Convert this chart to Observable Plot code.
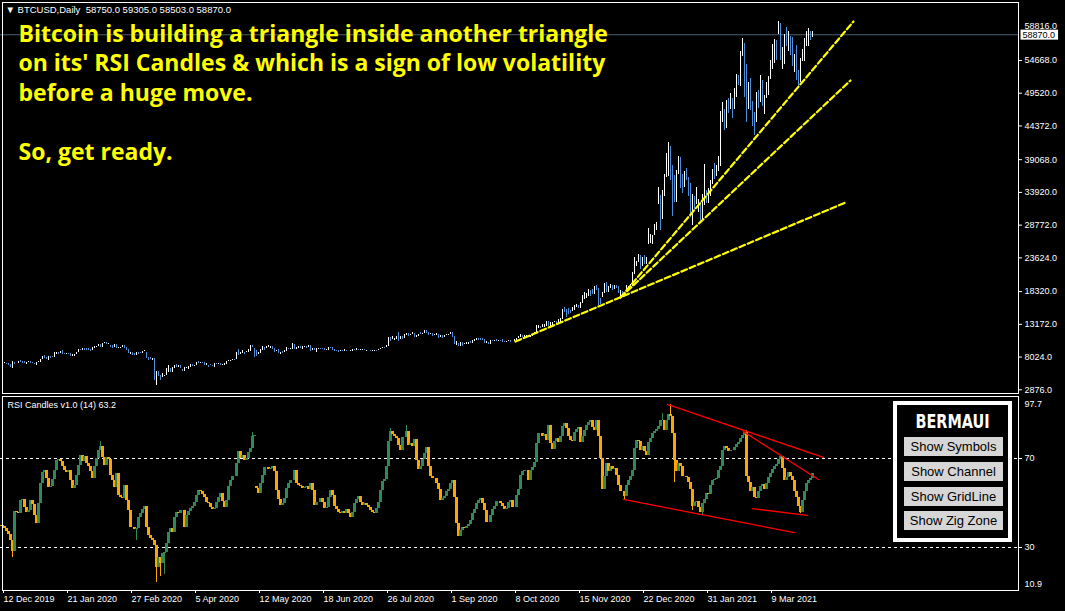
<!DOCTYPE html>
<html><head><meta charset="utf-8">
<script src="https://cdn.jsdelivr.net/npm/d3@7"></script>
<script src="https://cdn.jsdelivr.net/npm/@observablehq/plot@0.6"></script>
<style>
html,body{margin:0;padding:0;background:#000;}
#wrap{position:relative;width:1065px;height:611px;background:#000;overflow:hidden;font-family:"Liberation Sans",Arial,sans-serif;}
#wrap > svg{position:absolute;left:0;}
#bermaui{position:absolute;left:893px;top:401px;width:119px;height:141px;box-sizing:border-box;border:4px solid #fff;background:#000;}
#bermaui .btn{position:absolute;left:7px;width:99px;height:19px;background:#d6d6d6;color:#000;font:13px "Liberation Sans",Arial,sans-serif;text-align:center;line-height:19px;white-space:nowrap;}
#bermaui svg{position:absolute;left:0;top:0;}
</style></head>
<body><div id="wrap"></div>
<script>
// ---------------- DATA ----------------
const symbolName = "BTCUSD";
const timeframe = "Daily";
const lastOHLC = [58750.0, 59305.0, 58503.0, 58870.0];

const firstBar = 1; // bar index of first value (x = 2px per bar)

// price (thousands USD) – daily bars
const priceHigh = [
7.29,7.31,7.20,7.15,6.94,7.42,7.37,7.22,7.52,7.69,
7.42,7.43,7.27,7.52,7.42,7.33,7.21,7.40,7.50,7.78,
8.21,8.40,8.05,8.20,8.20,8.20,8.88,8.90,8.85,9.00,
9.16,8.72,8.76,8.80,8.69,8.51,8.60,8.97,9.37,9.43,
9.55,9.52,9.47,9.57,9.34,9.70,9.83,9.86,10.13,10.14,
10.29,10.43,10.47,10.38,10.05,9.96,10.18,10.20,9.65,9.71,
9.98,9.98,9.66,9.35,8.95,8.85,8.75,8.94,8.92,8.84,
9.10,9.17,8.90,8.18,8.15,7.97,7.97,5.92,5.90,5.36,
5.55,5.35,6.33,6.87,6.40,6.56,6.84,6.95,6.79,6.86,
6.25,6.60,6.52,6.74,7.09,7.00,6.88,7.35,7.46,7.40,
7.37,7.30,7.18,6.91,6.94,6.93,7.16,7.15,7.24,7.22,
6.94,7.14,7.50,7.57,7.70,7.80,7.78,8.89,9.44,8.96,
9.16,8.96,9.08,9.35,9.99,10.02,9.54,9.17,8.95,9.32,
9.79,9.75,9.88,9.93,9.90,9.81,9.56,9.26,9.31,8.97,
9.01,9.20,9.62,9.60,9.58,10.38,10.23,9.69,9.86,9.85,
9.80,9.80,9.83,9.94,9.96,9.55,9.49,9.49,9.57,9.54,
9.48,9.45,9.40,9.70,9.69,9.67,9.31,9.29,9.19,9.19,
9.18,9.30,9.24,9.12,9.14,9.35,9.36,9.45,9.44,9.30,
9.33,9.34,9.28,9.27,9.21,9.18,9.22,9.22,9.40,9.54,
9.64,9.63,10.05,11.30,11.24,11.34,11.17,11.45,12.07,11.47,
11.40,11.78,11.90,11.91,11.80,12.06,11.93,11.63,11.79,11.99,
11.93,12.32,12.39,12.01,11.88,11.88,11.69,11.81,11.77,11.52,
11.58,11.54,11.68,11.76,12.07,11.97,11.42,10.60,10.36,10.40,
10.40,10.35,10.48,10.40,10.58,10.80,10.94,11.09,11.04,11.03,
11.04,10.92,10.56,10.54,10.76,10.75,10.80,10.94,10.86,10.84,
10.92,10.62,10.69,10.80,10.79,10.68,10.94,11.10,11.44,11.72,
11.56,11.55,11.55,11.54,11.52,11.80,12.00,13.19,13.15,13.02,
13.33,13.24,13.77,13.85,13.62,13.66,13.85,13.82,14.02,14.24,
15.74,15.95,15.65,15.83,15.46,15.95,16.33,16.45,16.32,16.82,
17.82,18.39,18.10,18.78,18.70,18.77,19.35,19.40,18.92,17.44,
18.35,19.75,19.92,19.30,19.53,19.50,19.40,19.42,19.29,18.64,
18.56,18.28,19.41,19.35,19.54,21.46,23.77,23.28,24.29,24.10,
23.84,24.10,23.77,28.42,27.42,27.37,28.99,29.30,34.79,33.60,
34.44,36.88,40.18,41.95,41.36,38.35,36.70,37.60,39.75,39.58,
36.85,37.30,37.85,36.40,35.55,33.73,33.40,34.80,32.90,32.55,
33.74,38.53,34.40,34.64,35.90,37.66,38.59,38.31,39.70,46.80,
48.14,47.14,48.46,48.87,49.71,48.80,50.34,52.58,52.50,56.20,
58.35,57.53,54.20,51.30,52.00,48.30,46.70,49.78,50.13,52.52,
51.70,49.35,51.31,52.38,54.90,57.26,58.11,58.02,60.90,60.58,
56.87,58.90,60.00,59.45,58.60,58.40,55.80,57.20,53.20,55.10,
56.60,58.30,59.40,59.80,59.46,59.31];
const priceLow = [
7.07,7.17,7.04,6.86,6.56,6.43,7.04,7.11,7.13,7.26,
7.17,7.16,7.08,7.30,7.22,7.16,6.94,6.87,7.31,7.35,
7.74,7.88,7.76,7.70,7.96,8.06,8.10,8.60,8.61,8.70,
8.52,8.52,8.51,8.62,8.30,8.25,8.28,8.57,8.88,9.26,
9.22,9.25,9.26,9.22,9.10,9.16,9.57,9.72,9.86,9.73,
9.76,10.26,10.10,10.14,9.72,9.45,9.62,9.58,9.46,9.57,
9.66,9.55,9.27,8.75,8.57,8.50,8.50,8.50,8.66,8.68,
8.75,9.03,8.00,7.63,7.82,7.60,4.57,3.70,5.10,4.44,
4.98,5.07,5.24,5.73,5.80,5.79,6.41,6.50,6.54,6.43,
5.86,5.86,6.35,6.20,6.60,6.66,6.68,6.78,7.12,7.15,
7.18,6.80,6.81,6.60,6.79,6.63,6.56,7.02,7.07,6.81,
6.83,6.86,7.08,7.46,7.52,7.68,7.68,7.75,8.42,8.64,
8.73,8.62,8.86,8.95,9.06,9.72,8.10,8.20,8.56,8.80,
9.26,9.26,9.45,9.67,9.57,9.38,8.87,9.02,8.72,8.64,
8.70,8.84,9.11,9.37,9.39,9.42,9.30,9.44,9.51,9.58,
9.40,9.64,9.59,9.70,9.10,9.26,9.26,8.97,9.40,9.33,
9.32,9.24,9.26,9.28,9.57,9.25,9.06,9.06,8.94,9.02,
9.08,9.10,9.00,9.05,8.98,9.06,9.20,9.24,9.18,9.14,
9.18,9.20,9.12,9.17,9.09,9.09,9.12,9.13,9.15,9.30,
9.48,9.47,9.70,9.90,10.64,10.87,10.84,10.98,10.65,11.00,
11.01,11.09,11.59,11.38,11.53,11.67,11.18,11.27,11.36,11.69,
11.68,11.88,11.82,11.57,11.69,11.49,11.51,11.61,11.15,11.26,
11.15,11.29,11.51,11.58,11.66,11.24,10.19,10.02,9.90,9.92,
9.88,10.11,10.22,10.21,10.25,10.28,10.65,10.72,10.75,10.82,
10.80,10.38,10.39,10.20,10.22,10.59,10.64,10.68,10.67,10.70,
10.54,10.40,10.50,10.66,10.53,10.58,10.56,10.83,11.07,11.23,
11.32,11.30,11.27,11.23,11.33,11.41,11.67,11.90,12.71,12.73,
12.88,12.78,13.06,12.95,12.99,13.14,13.57,13.24,13.28,13.55,
14.10,15.17,14.42,14.84,15.08,15.29,15.44,15.99,15.79,15.88,
16.57,17.26,17.36,17.76,17.67,18.08,18.06,18.59,16.33,16.44,
17.57,18.18,18.32,18.35,18.94,18.62,18.88,18.92,18.23,17.65,
17.95,17.57,18.88,19.00,19.06,19.29,21.24,22.35,23.06,22.03,
22.40,22.79,22.72,25.82,26.12,25.88,27.32,28.01,32.10,28.13,
29.88,33.48,36.41,36.57,35.98,30.30,32.53,32.54,36.90,34.66,
33.85,34.88,35.90,33.40,30.07,28.95,31.45,32.17,30.89,29.24,
29.84,31.99,32.30,32.30,33.44,35.36,36.16,36.65,37.40,38.08,
45.02,43.80,44.19,46.42,47.12,45.70,47.10,49.03,50.95,50.75,
55.50,48.97,45.00,47.10,46.92,44.50,43.02,45.12,47.23,48.21,
47.66,46.36,48.80,49.35,51.87,53.36,54.41,54.89,58.96,54.80,
53.48,54.20,57.10,56.30,55.60,53.80,53.00,51.70,50.43,51.30,
54.70,54.70,57.00,56.95,57.90,58.50];
const priceClose = [
7.20,7.25,7.12,6.88,6.62,7.28,7.15,7.19,7.51,7.32,
7.25,7.20,7.25,7.39,7.24,7.19,6.98,7.34,7.36,7.76,
8.16,8.04,7.82,8.19,8.18,8.11,8.81,8.82,8.72,8.93,
8.70,8.63,8.74,8.68,8.41,8.44,8.59,8.90,9.36,9.30,
9.51,9.35,9.34,9.29,9.18,9.62,9.73,9.80,10.10,9.85,
10.27,10.35,10.24,10.36,9.93,9.70,10.16,9.60,9.61,9.69,
9.96,9.66,9.32,8.78,8.79,8.67,8.53,8.92,8.76,8.75,
9.07,9.15,8.04,7.93,7.91,7.91,4.97,5.56,5.39,5.01,
5.23,5.23,6.19,6.20,5.83,6.42,6.74,6.68,6.74,6.47,
5.88,6.40,6.44,6.64,6.81,6.74,6.78,7.27,7.18,7.36,
7.30,6.86,6.91,6.86,6.85,6.64,7.12,7.10,7.19,6.88,
6.88,7.12,7.48,7.51,7.70,7.79,7.76,8.80,8.66,8.86,
8.91,8.89,9.03,9.15,9.99,9.81,8.73,8.56,8.81,9.27,
9.73,9.31,9.67,9.73,9.79,9.51,9.07,9.17,8.72,8.90,
8.84,9.20,9.58,9.43,9.45,10.20,9.52,9.66,9.79,9.62,
9.76,9.78,9.77,9.88,9.32,9.48,9.39,9.45,9.53,9.46,
9.41,9.29,9.29,9.69,9.63,9.30,9.26,9.17,9.11,9.19,
9.14,9.23,9.09,9.07,9.08,9.34,9.25,9.43,9.24,9.29,
9.30,9.24,9.25,9.20,9.13,9.15,9.21,9.16,9.39,9.54,
9.61,9.55,9.93,11.03,10.91,11.10,11.11,11.35,11.07,11.23,
11.19,11.74,11.78,11.60,11.68,11.88,11.41,11.58,11.78,11.77,
11.91,12.25,11.99,11.76,11.87,11.51,11.66,11.77,11.37,11.47,
11.33,11.54,11.68,11.68,11.97,11.41,10.25,10.51,10.28,10.37,
10.14,10.24,10.36,10.40,10.33,10.68,10.79,10.96,10.95,10.94,
10.92,10.42,10.54,10.24,10.74,10.69,10.77,10.71,10.84,10.78,
10.62,10.57,10.67,10.79,10.60,10.67,10.92,11.06,11.38,11.56,
11.43,11.43,11.50,11.32,11.51,11.75,11.92,12.82,12.97,12.93,
13.03,13.07,13.65,13.27,13.46,13.56,13.74,13.55,13.96,14.13,
15.58,15.57,15.48,15.33,15.30,15.70,16.28,16.32,15.96,16.72,
17.65,17.80,17.82,18.68,18.42,18.37,19.16,18.72,17.15,17.14,
18.18,19.70,18.79,19.23,19.45,18.70,19.36,19.17,18.32,18.55,
18.26,18.04,19.17,19.27,19.44,21.31,22.80,23.14,23.48,22.75,
23.83,23.24,23.73,26.27,27.08,27.36,28.84,29.00,33.00,31.97,
33.99,36.82,39.37,40.80,38.34,35.57,33.92,37.32,39.19,36.83,
35.98,36.63,36.07,35.55,30.83,32.99,32.28,32.37,32.57,30.43,
33.47,34.31,33.11,33.54,35.51,37.47,36.92,38.14,38.90,46.20,
46.48,44.92,47.97,47.40,48.58,47.93,49.20,52.15,51.68,55.89,
57.41,54.09,48.89,49.68,47.26,46.34,45.24,49.63,48.38,50.54,
48.37,48.76,51.00,52.25,54.82,55.96,57.75,57.23,59.04,55.86,
56.67,58.73,57.59,58.33,57.35,54.10,54.34,52.30,51.30,55.03,
55.77,57.62,58.78,58.80,58.74,58.87];

// RSI Candles (14) – close of each RSI candle
const rsiClose = [
39.5,38.4,37.2,35.7,33.2,28.3,46.0,45.9,45.2,51.2,
51.7,47.9,45.8,46.7,51.2,49.4,44.4,40.7,49.7,58.7,
63.5,64.4,61.0,56.9,57.2,60.5,64.7,69.2,69.5,68.5,
66.5,64.4,63.5,64.7,60.2,56.5,58.0,62.5,67.0,71.5,
68.5,71.0,67.7,66.2,64.0,61.0,66.2,70.0,73.8,75.3,
70.5,67.0,70.5,69.5,62.5,60.2,56.9,63.2,53.5,52.7,
52.0,58.0,51.2,46.7,39.2,39.2,38.0,38.4,43.4,45.2,
47.0,48.5,39.2,35.4,33.9,33.2,30.9,21.1,25.6,22.6,
27.1,27.9,31.6,36.9,38.4,36.9,43.7,45.9,45.2,46.7,
46.7,39.2,44.4,46.4,47.4,48.5,50.4,53.5,55.7,55.0,
53.9,52.4,50.4,49.7,48.2,47.3,47.4,50.4,52.7,54.2,
50.9,47.9,51.2,57.5,60.2,61.7,62.0,67.7,73.0,70.0,
71.5,68.9,70.0,72.7,74.5,79.8,80.5,56.5,54.5,58.7,
62.5,65.8,65.8,65.0,65.5,66.2,64.0,55.7,51.5,48.9,
49.7,52.0,56.5,58.7,60.2,60.2,64.7,58.7,58.0,57.2,
56.5,56.9,57.5,56.0,58.7,55.7,48.9,50.4,50.4,52.0,
50.4,47.4,47.9,52.4,55.7,53.5,48.5,47.0,45.9,45.2,
46.4,45.5,47.0,45.2,43.7,45.9,50.0,51.5,53.0,50.4,
48.9,50.0,49.1,47.9,46.7,45.8,45.5,47.4,50.4,55.7,
59.5,60.5,66.2,77.5,82.0,81.0,80.1,79.0,76.0,73.8,
79.5,79.5,82.0,76.0,76.8,75.3,78.6,69.2,65.0,66.2,
69.5,72.3,74.8,66.2,61.7,60.8,61.0,58.7,56.0,51.2,
52.1,53.0,55.0,56.3,58.7,59.9,52.7,40.7,35.0,37.7,
38.9,38.4,39.5,40.4,42.2,45.5,47.3,50.0,51.2,52.0,
50.0,46.7,41.4,41.4,44.4,47.0,48.5,50.9,50.6,49.7,
48.5,47.0,47.4,50.1,51.2,47.9,48.2,53.5,56.0,62.5,
64.3,64.4,64.4,60.2,64.7,65.8,68.3,76.8,81.3,81.3,
80.1,81.0,78.3,85.0,76.8,74.1,77.5,79.0,77.1,79.8,
84.6,85.8,83.5,80.1,78.3,77.5,81.9,83.2,84.0,77.1,
80.1,82.5,84.7,86.4,87.3,84.0,82.8,87.0,79.8,70.0,
56.0,61.7,67.7,64.3,66.2,65.0,65.5,62.5,58.0,55.0,
55.4,53.0,58.0,60.2,61.7,64.7,74.5,78.0,77.7,73.8,
75.3,73.0,71.5,77.1,79.0,81.3,82.3,83.2,84.3,87.3,
87.3,82.8,87.3,90.0,89.1,81.3,69.2,64.0,67.7,66.2,
61.7,62.0,61.4,59.0,56.0,48.5,50.4,50.9,47.9,45.9,
50.0,51.5,54.5,53.8,58.0,60.2,60.5,61.0,64.4,66.2,
73.8,75.3,74.5,73.0,73.8,73.8,74.8,76.3,77.4,79.0,
80.5,81.7,61.7,59.0,55.0,56.9,52.4,52.0,55.4,57.2,
58.4,56.0,58.7,61.4,63.2,65.0,66.5,67.4,69.5,70.8,
65.5,60.2,61.4,63.5,61.7,59.9,55.4,52.4,48.5,45.9,
51.2,55.0,58.7,60.2,61.0,63.2];
const rsiFirstOpen = 40.0;
const rsiGapOpen = [[128, 57.5]];                 // [bar, open] where the candle gaps
const rsiWickHigh = [[50,77.5],[126,81.5],[195,83.5],[203,85.0],[331,90.3],[335,94.3],[373,82.8],[390,71.5]];
const rsiWickLow  = [[6,25.3],[68,33.2],[78,14.4],[80,16.9],[82,17.8],[312,51.2],[337,59.0],[346,46.7],[351,44.4],[400,45.2]];
const rsiLevels = [70, 30];
const rsiTopLabel = 97.7, rsiBottomLabel = 10.9;

const dateTickIndex = [1,33,65,97,129,161,193,225,257,289,321,353,385];
const dateTickLabel = ["12 Dec 2019","21 Jan 2020","27 Feb 2020","5 Apr 2020","12 May 2020","18 Jun 2020","26 Jul 2020","1 Sep 2020","8 Oct 2020","15 Nov 2020","22 Dec 2020","31 Jan 2021","9 Mar 2021"];
const priceTicks = [2876, 8024, 13172, 18320, 23624, 28772, 33920, 39068, 44372, 49520, 54668];
const priceTopLabel = 58816;

// yellow trend lines on price: [bar1, price1, bar2, price2]
const yellowLines = [[257.5,10630,422.5,32490],[310,17550,426.5,60960],[310,17550,425,51680]];
// red trend lines on RSI: [bar1, rsi1, bar2, rsi2]
const redLines = [[333.5,94.3,411.5,70.5],[371.5,82.1,409,60.6],[311.5,51.6,397,36.7],[376,47.5,403.5,44.4]];

const annotation = ["Bitcoin is building a triangle inside another triangle","on its' RSI Candles & which is a sign of low volatility","before a huge move.","\u00a0","So, get ready."];
const bermauiButtons = ["Show Symbols","Show Channel","Show GridLine","Show Zig Zone"];

// ---------------- BUILD ----------------
if (priceHigh.length !== priceLow.length || priceHigh.length !== priceClose.length || rsiClose.length !== priceClose.length)
  throw new Error(`length mismatch ${priceHigh.length} ${priceLow.length} ${priceClose.length} ${rsiClose.length}`);

const bars = priceHigh.map((h, k) => ({
  i: firstBar + k, hi: h * 1000, lo: priceLow[k] * 1000,
  up: priceClose[k] >= (k ? priceClose[k - 1] : priceClose[k])
}));
const gap = new Map(rsiGapOpen);
const candles = rsiClose.map((c, k) => {
  const i = firstBar + k;
  const open = gap.has(i) ? gap.get(i) : (k ? rsiClose[k - 1] : rsiFirstOpen);
  return {i, open, close: c, up: c >= open};
});
const wicks = [
  ...rsiWickHigh.map(([i, v]) => { const c = candles[i - firstBar]; return {i, y1: Math.max(c.open, c.close), y2: v, up: c.up}; }),
  ...rsiWickLow.map(([i, v]) => { const c = candles[i - firstBar]; return {i, y1: Math.min(c.open, c.close), y2: v, up: c.up}; })
];
const yPts = yellowLines.flatMap(([a, b, c, d], id) => [{id, i: a, v: b}, {id, i: c, v: d}]);
const rPts = redLines.flatMap(([a, b, c, d], id) => [{id, i: a, v: b}, {id, i: c, v: d}]);
const lastClose = lastOHLC[3];
const header = `\u25BC ${symbolName},${timeframe}  ${lastOHLC.map(v => v.toFixed(1)).join(" ")}`;
const rsiHeader = `RSI Candles v1.0 (14) ${rsiClose[rsiClose.length - 1].toFixed(1)}`;

const FONT = "'Liberation Sans', Arial, sans-serif";
const UP = "#ffffff", DOWN = "#4b8fdc", RUP = "#2e8b57", RDN = "#ffa500";

const main = Plot.plot({
  width: 1065, height: 394,
  marginTop: 0, marginBottom: 0, marginLeft: 0, marginRight: 47,
  style: {background: "transparent", color: "white", fontFamily: FONT, fontSize: "9px"},
  x: {domain: [0, 509], axis: null},
  y: {domain: [2876, 58816], range: [390.3, 34.6], axis: null},
  marks: [
    Plot.ruleY([lastClose], {stroke: "#4e6070"}),
    Plot.ruleX(bars, {x: "i", y1: "lo", y2: "hi", stroke: d => d.up ? UP : DOWN, strokeWidth: 1, shapeRendering: "crispEdges"}),
    Plot.line(yPts, {x: "i", y: "v", z: "id", stroke: "#ffff00", strokeWidth: 2.2, strokeDasharray: "6,3"}),
    Plot.frame({stroke: "white", insetLeft: 2, insetTop: 2, insetBottom: 1}),
    Plot.axisY(priceTicks, {anchor: "right", label: null, tickSize: 3, tickPadding: 3, tickFormat: d => d.toFixed(1), stroke: "white", fill: "white", dy: -1}),
    Plot.text([priceTopLabel], {y: d => d, frameAnchor: "right", dx: 6, dy: -9, textAnchor: "start", text: d => d.toFixed(1), fill: "white"}),
    Plot.text([header], {frameAnchor: "top-left", dx: 5, dy: 6, lineAnchor: "top", textAnchor: "start", fill: "white", fontSize: 9.5}),
    Plot.text([annotation.join("\n")], {frameAnchor: "top-left", dx: 18, dy: 20, lineAnchor: "top", textAnchor: "start",
      fill: "#ffff00", fontSize: 23, fontWeight: "bold", lineHeight: 1.29, fontFamily: "'Open Sans', 'Liberation Sans', sans-serif"}),
    Plot.text([lastClose], {y: d => d, frameAnchor: "right", dx: 4, textAnchor: "start", text: d => d.toFixed(1), fill: "black"})
  ]
});
main.style.top = "0px";

const rsi = Plot.plot({
  width: 1065, height: 218,
  marginTop: 0, marginBottom: 21, marginLeft: 0, marginRight: 47,
  style: {background: "transparent", color: "white", fontFamily: FONT, fontSize: "9px"},
  x: {domain: [0, 509], axis: null},
  y: {domain: [10.9, 97.7], range: [196.5, 3.4], axis: null},
  marks: [
    Plot.ruleY(rsiLevels, {stroke: "white", strokeDasharray: "3,3"}),
    Plot.ruleX(wicks, {x: "i", y1: "y1", y2: "y2", stroke: d => d.up ? RUP : RDN, shapeRendering: "crispEdges"}),
    Plot.rect(candles, {x1: d => d.i - 0.75, x2: d => d.i + 0.75, y1: "open", y2: "close", fill: d => d.up ? RUP : RDN, shapeRendering: "crispEdges"}),
    Plot.line(rPts, {x: "i", y: "v", z: "id", stroke: "#ff0000", strokeWidth: 1.3}),
    Plot.frame({stroke: "white", insetLeft: 2, insetTop: 3}),
    Plot.axisY(rsiLevels, {anchor: "right", label: null, tickSize: 3, tickPadding: 3, stroke: "white", fill: "white"}),
    Plot.text([rsiTopLabel], {y: d => d, frameAnchor: "right", dx: 6, dy: 7, textAnchor: "start", fill: "white"}),
    Plot.text([rsiBottomLabel], {y: d => d, frameAnchor: "right", dx: 6, dy: -6, textAnchor: "start", fill: "white"}),
    Plot.axisX(dateTickIndex, {anchor: "bottom", label: null, tickSize: 3, tickPadding: 2, tickFormat: i => dateTickLabel[dateTickIndex.indexOf(i)], textAnchor: "start", dx: 1, stroke: "white", fill: "white"}),
    Plot.text([rsiHeader], {frameAnchor: "top-left", dx: 7, dy: 8, lineAnchor: "top", textAnchor: "start", fill: "white"})
  ]
});
rsi.style.top = "393px";

const wrap = document.getElementById("wrap");
wrap.appendChild(main);
wrap.appendChild(rsi);

// white label box behind the current price (same transform as its text)
{
  const label = lastClose.toFixed(1);
  const t = [...main.querySelectorAll("text")].find(e => e.textContent === label);
  if (t) {
    const b = t.getBBox();
    const r = document.createElementNS("http://www.w3.org/2000/svg", "rect");
    r.setAttribute("x", b.x - 2); r.setAttribute("y", b.y);
    r.setAttribute("width", b.width + 5); r.setAttribute("height", b.height);
    r.setAttribute("fill", "white");
    const tr = t.getAttribute("transform");
    if (tr) r.setAttribute("transform", tr);
    t.parentNode.insertBefore(r, t);
  }
}

// BERMAUI panel
const box = document.createElement("div");
box.id = "bermaui";
box.innerHTML = `<svg width="111" height="30"><text x="55.5" y="23" text-anchor="middle" textLength="74" lengthAdjust="spacingAndGlyphs" font-family="'DejaVu Sans Condensed','DejaVu Sans',sans-serif" font-weight="bold" font-size="20" fill="white">BERMAUI</text></svg>` +
  bermauiButtons.map((b, k) => `<div class="btn" style="top:${[32, 57, 82, 106][k]}px">${b}</div>`).join("");
wrap.appendChild(box);
</script>
</body></html>
